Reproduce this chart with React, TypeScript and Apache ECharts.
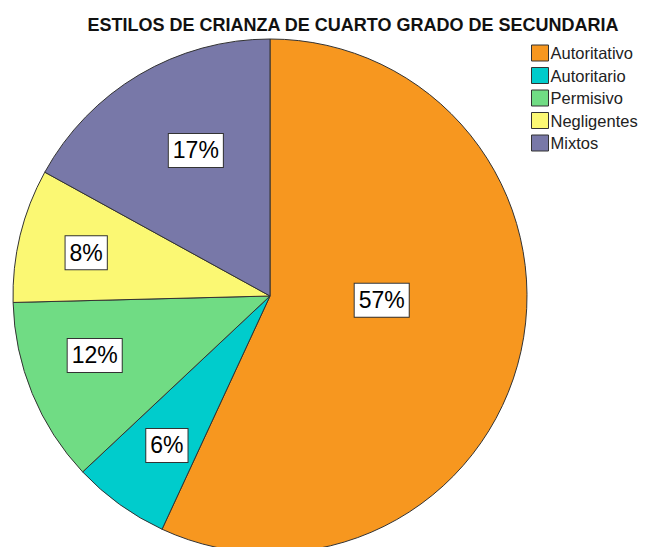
import React, { useEffect, useRef } from "react";
import * as echarts from "echarts";

const categories = ["Autoritativo", "Autoritario", "Permisivo", "Negligentes", "Mixtos"];
const values = [56.9, 6.1, 11.6, 8.4, 17.0];
const colors = ["#F7971F", "#00CCCC", "#70DC84", "#FBF873", "#7878A8"];
const labelNudges: [number, number][] = [[-67, -35], [4, 1], [-6, -10], [-6, 0], [19, 12]];
const title = "ESTILOS DE CRIANZA DE CUARTO GRADO DE SECUNDARIA";

export default function App() {
  const ref = useRef<HTMLDivElement>(null);
  useEffect(() => {
    if (!ref.current) return;
    const chart = echarts.init(ref.current, null, { renderer: "svg" });
    const center = [270, 296];
    const fmt = (p: any) => Math.round(p.percent) + "%";
    chart.setOption({
      animation: false,
      backgroundColor: "#ffffff",
      title: {
        text: title,
        left: 348,
        top: 11,
        textAlign: "center",
        textStyle: { fontFamily: "'Liberation Sans', Arial, sans-serif", fontSize: 18, fontWeight: "bold", color: "#111" },
      },
      legend: {
        orient: "vertical",
        left: 526,
        top: 38,
        icon: "rect",
        itemWidth: 17,
        itemHeight: 16,
        itemGap: 2.5,
        data: categories,
        itemStyle: { borderColor: "#333", borderWidth: 1 },
        textStyle: {
          fontFamily: "'Liberation Sans', Arial, sans-serif",
          fontSize: 16.5,
          lineHeight: 20,
          color: "#222",
          padding: [0, 0, 0, -3],
        },
      },
      series: [
        {
          type: "pie",
          center,
          radius: [0, 257],
          startAngle: 90,
          clockwise: true,
          silent: true,
          label: { show: false },
          labelLine: { show: false },
          itemStyle: { borderColor: "#333", borderWidth: 1 },
          data: categories.map((n, i) => ({ name: n, value: values[i], itemStyle: { color: colors[i] } })),
        },
        {
          type: "pie",
          center,
          radius: [0, 360],
          startAngle: 90,
          clockwise: true,
          silent: true,
          z: 3,
          itemStyle: { color: "rgba(0,0,0,0)", borderWidth: 0 },
          labelLine: { show: false },
          label: {
            show: true,
            position: "inside",
            formatter: fmt,
            fontFamily: "'Liberation Sans', Arial, sans-serif",
            fontSize: 23,
            lineHeight: 26,
            color: "#000",
            backgroundColor: "#fff",
            borderColor: "#333",
            borderWidth: 1,
            padding: [4, 4, 3, 4],
          },
          data: categories.map((n, i) => ({
            name: n,
            value: values[i],
            label: { offset: labelNudges[i] },
          })),
        },
      ],
    });
    return () => chart.dispose();
  }, []);
  return (
    <div style={{ position: "absolute", left: 0, top: 0 }}>
      <div ref={ref} style={{ width: 645, height: 547 }} />
    </div>
  );
}
